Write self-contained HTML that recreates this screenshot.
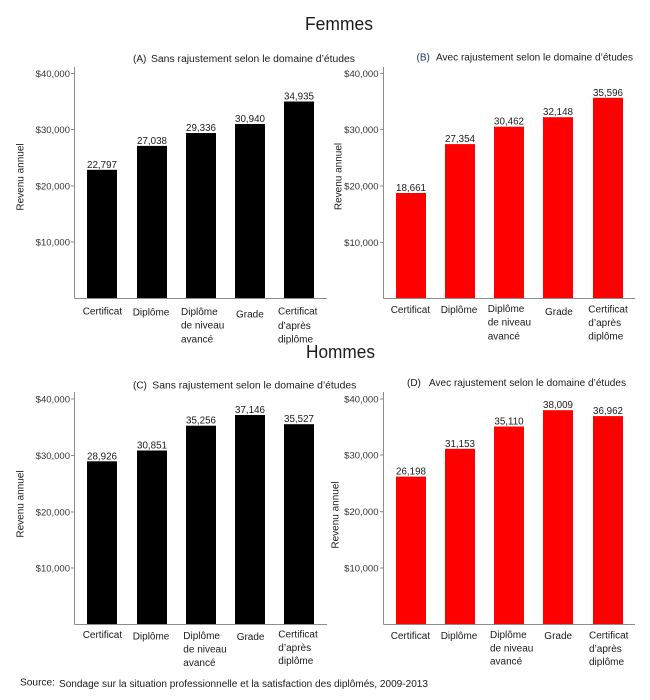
<!DOCTYPE html>
<html><head><meta charset="utf-8"><style>
html,body{margin:0;padding:0;background:#fff;}
svg{display:block;}
text{font-family:"Liberation Sans",sans-serif;fill:#1a1a1a;}
.tk{font-size:9.5px;text-anchor:end;fill:#333;}
.vl{font-size:9.8px;text-anchor:middle;}
.ct{font-size:10px;}
.st{font-size:10px;}
.yl{font-size:10px;text-anchor:middle;}
</style></head><body>
<svg width="650" height="700" viewBox="0 0 650 700" xmlns="http://www.w3.org/2000/svg">
<rect width="650" height="700" fill="#fff"/>
<!-- Titles -->
<text x="305" y="30" font-size="18" textLength="68" lengthAdjust="spacingAndGlyphs">Femmes</text>
<text x="306" y="358" font-size="18" textLength="69" lengthAdjust="spacingAndGlyphs">Hommes</text>

<!-- Subtitles -->
<text class="st" x="133" y="62">(A)</text>
<text class="st" x="151" y="62" textLength="204" lengthAdjust="spacingAndGlyphs">Sans rajustement selon le domaine d’études</text>
<text class="st" x="416.5" y="60.7" style="fill:#24335a">(B)</text>
<text class="st" x="436" y="60.7" textLength="197" lengthAdjust="spacingAndGlyphs">Avec rajustement selon le domaine d’études</text>
<text class="st" x="133" y="388.3">(C)</text>
<text class="st" x="152.3" y="388.3" textLength="204" lengthAdjust="spacingAndGlyphs">Sans rajustement selon le domaine d’études</text>
<text class="st" x="407" y="386">(D)</text>
<text class="st" x="429" y="386" textLength="197" lengthAdjust="spacingAndGlyphs">Avec rajustement selon le domaine d’études</text>

<!-- ===== Panel A ===== -->
<g stroke="#8c8c8c" stroke-width="1" fill="none">
<line x1="74.5" y1="67" x2="74.5" y2="298.5"/>
<line x1="74.5" y1="298.5" x2="327" y2="298.5"/>
<line x1="71" y1="73.5" x2="74.5" y2="73.5"/>
<line x1="71" y1="129.5" x2="74.5" y2="129.5"/>
<line x1="71" y1="186" x2="74.5" y2="186"/>
<line x1="71" y1="242" x2="74.5" y2="242"/>
</g>
<text class="tk" x="70" y="77">$40,000</text>
<text class="tk" x="70" y="133">$30,000</text>
<text class="tk" x="70" y="189.5">$20,000</text>
<text class="tk" x="70" y="245.5">$10,000</text>
<text class="yl" transform="translate(23.5,177) rotate(-90)">Revenu annuel</text>
<g fill="#000">
<rect x="87" y="169.8" width="30" height="128.2"/>
<rect x="137" y="145.9" width="30" height="152.1"/>
<rect x="186" y="133" width="30" height="165"/>
<rect x="235" y="124" width="30" height="174"/>
<rect x="284" y="101.5" width="30" height="196.5"/>
</g>
<text class="vl" x="102" y="168">22,797</text>
<text class="vl" x="152" y="144">27,038</text>
<text class="vl" x="201" y="131">29,336</text>
<text class="vl" x="250" y="122">30,940</text>
<text class="vl" x="299" y="99.5">34,935</text>
<text class="ct" x="82.7" y="314.5">Certificat</text>
<text class="ct" x="132.7" y="315.5">Diplôme</text>
<text class="ct" x="181" y="315">Diplôme</text>
<text class="ct" x="181" y="328.7">de niveau</text>
<text class="ct" x="181" y="342.3">avancé</text>
<text class="ct" x="236" y="317.5">Grade</text>
<text class="ct" x="278" y="314.5">Certificat</text>
<text class="ct" x="278" y="329">d’après</text>
<text class="ct" x="278" y="342.5">diplôme</text>

<!-- ===== Panel B ===== -->
<g stroke="#8c8c8c" stroke-width="1" fill="none">
<line x1="383.5" y1="67" x2="383.5" y2="298.5"/>
<line x1="383.5" y1="298.5" x2="635" y2="298.5"/>
<line x1="380" y1="73.5" x2="383.5" y2="73.5"/>
<line x1="380" y1="129.5" x2="383.5" y2="129.5"/>
<line x1="380" y1="186" x2="383.5" y2="186"/>
<line x1="380" y1="242.5" x2="383.5" y2="242.5"/>
</g>
<text class="tk" x="378.5" y="77">$40,000</text>
<text class="tk" x="378.5" y="133">$30,000</text>
<text class="tk" x="378.5" y="189.5">$20,000</text>
<text class="tk" x="378.5" y="246">$10,000</text>
<text class="yl" transform="translate(341.5,176.5) rotate(-90)">Revenu annuel</text>
<g fill="#ff0000">
<rect x="396" y="193" width="30" height="105"/>
<rect x="445" y="144.1" width="30" height="153.9"/>
<rect x="494" y="126.7" width="30" height="171.3"/>
<rect x="543" y="117.2" width="30" height="180.8"/>
<rect x="593" y="97.8" width="30" height="200.2"/>
</g>
<text class="vl" x="411" y="191">18,661</text>
<text class="vl" x="460" y="142">27,354</text>
<text class="vl" x="509" y="124.7">30,462</text>
<text class="vl" x="558" y="115.2">32,148</text>
<text class="vl" x="608" y="95.8">35,596</text>
<text class="ct" x="390.7" y="312.8">Certificat</text>
<text class="ct" x="440.7" y="312.8">Diplôme</text>
<text class="ct" x="487.7" y="312">Diplôme</text>
<text class="ct" x="487.7" y="325.7">de niveau</text>
<text class="ct" x="487.7" y="339.5">avancé</text>
<text class="ct" x="545" y="315">Grade</text>
<text class="ct" x="588.3" y="312.5">Certificat</text>
<text class="ct" x="588.3" y="326">d’après</text>
<text class="ct" x="588.3" y="339.5">diplôme</text>

<!-- ===== Panel C ===== -->
<g stroke="#8c8c8c" stroke-width="1" fill="none">
<line x1="74.5" y1="392" x2="74.5" y2="624.5"/>
<line x1="74.5" y1="624.5" x2="327" y2="624.5"/>
<line x1="71" y1="399" x2="74.5" y2="399"/>
<line x1="71" y1="455.5" x2="74.5" y2="455.5"/>
<line x1="71" y1="512" x2="74.5" y2="512"/>
<line x1="71" y1="568" x2="74.5" y2="568"/>
</g>
<text class="tk" x="70" y="402.5">$40,000</text>
<text class="tk" x="70" y="459">$30,000</text>
<text class="tk" x="70" y="515.5">$20,000</text>
<text class="tk" x="70" y="571.5">$10,000</text>
<text class="yl" transform="translate(23.5,504) rotate(-90)">Revenu annuel</text>
<g fill="#000">
<rect x="87" y="461.3" width="30" height="162.7"/>
<rect x="137" y="450.5" width="30" height="173.5"/>
<rect x="186" y="425.7" width="30" height="198.3"/>
<rect x="235" y="415" width="30" height="209"/>
<rect x="284" y="424.2" width="30" height="199.8"/>
</g>
<text class="vl" x="102" y="459.3">28,926</text>
<text class="vl" x="152" y="448.5">30,851</text>
<text class="vl" x="201" y="423.7">35,256</text>
<text class="vl" x="250" y="413">37,146</text>
<text class="vl" x="299" y="422.2">35,527</text>
<text class="ct" x="82.7" y="637.8">Certificat</text>
<text class="ct" x="132.7" y="639.5">Diplôme</text>
<text class="ct" x="183.3" y="639">Diplôme</text>
<text class="ct" x="183.3" y="652.5">de niveau</text>
<text class="ct" x="183.3" y="665.8">avancé</text>
<text class="ct" x="236.7" y="640">Grade</text>
<text class="ct" x="278.3" y="637.5">Certificat</text>
<text class="ct" x="278.3" y="651">d’après</text>
<text class="ct" x="278.3" y="664">diplôme</text>

<!-- ===== Panel D ===== -->
<g stroke="#8c8c8c" stroke-width="1" fill="none">
<line x1="383.5" y1="392" x2="383.5" y2="624.5"/>
<line x1="383.5" y1="624.5" x2="635" y2="624.5"/>
<line x1="380" y1="399" x2="383.5" y2="399"/>
<line x1="380" y1="455" x2="383.5" y2="455"/>
<line x1="380" y1="511.7" x2="383.5" y2="511.7"/>
<line x1="380" y1="568" x2="383.5" y2="568"/>
</g>
<text class="tk" x="378.5" y="402.5">$40,000</text>
<text class="tk" x="378.5" y="458.5">$30,000</text>
<text class="tk" x="378.5" y="515.2">$20,000</text>
<text class="tk" x="378.5" y="571.5">$10,000</text>
<text class="yl" transform="translate(338.5,515) rotate(-90)">Revenu annuel</text>
<g fill="#ff0000">
<rect x="396" y="476.6" width="30" height="147.4"/>
<rect x="445" y="448.8" width="30" height="175.2"/>
<rect x="494" y="426.5" width="30" height="197.5"/>
<rect x="543" y="410.2" width="30" height="213.8"/>
<rect x="593" y="416.1" width="30" height="207.9"/>
</g>
<text class="vl" x="411" y="474.6">26,198</text>
<text class="vl" x="460" y="446.8">31,153</text>
<text class="vl" x="509" y="424.5">35,110</text>
<text class="vl" x="558" y="408.2">38,009</text>
<text class="vl" x="608" y="414.1">36,962</text>
<text class="ct" x="390.7" y="639">Certificat</text>
<text class="ct" x="440.7" y="639">Diplôme</text>
<text class="ct" x="490" y="638">Diplôme</text>
<text class="ct" x="490" y="651.3">de niveau</text>
<text class="ct" x="490" y="664.5">avancé</text>
<text class="ct" x="544.3" y="639">Grade</text>
<text class="ct" x="589" y="638.5">Certificat</text>
<text class="ct" x="589" y="652">d’après</text>
<text class="ct" x="589" y="665">diplôme</text>

<!-- Source -->
<text x="20" y="685.3" font-size="10" textLength="35" lengthAdjust="spacingAndGlyphs">Source:</text>
<text x="59" y="686.8" font-size="10" textLength="369" lengthAdjust="spacingAndGlyphs">Sondage sur la situation professionnelle et la satisfaction des diplômés, 2009-2013</text>
</svg>
</body></html>
